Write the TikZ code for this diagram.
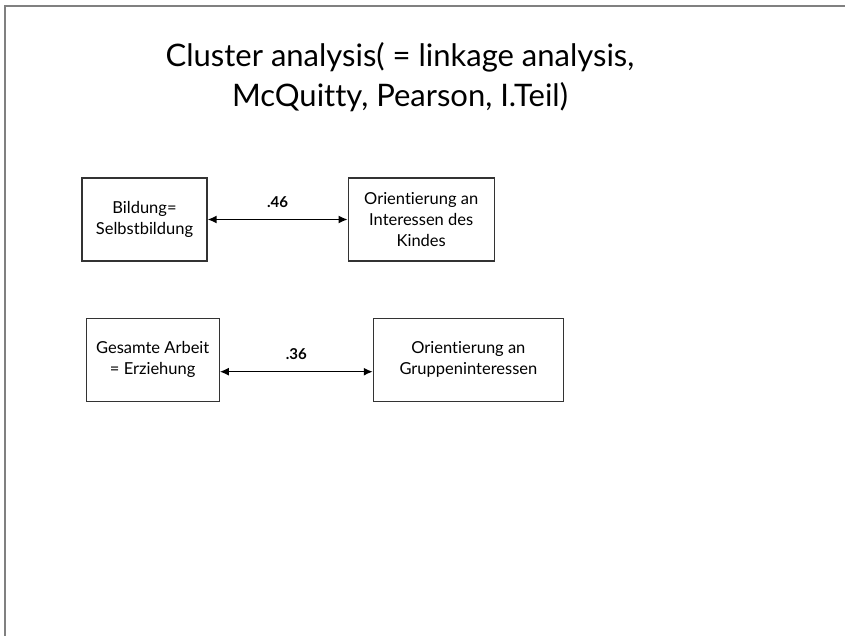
\documentclass[tikz,border=0pt]{standalone}
\usepackage{fontspec}
\setmainfont{Lato}[Ligatures=NoCommon]
\usetikzlibrary{positioning,arrows.meta}

\begin{document}
\begin{tikzpicture}[x=1pt,y=1pt,
    concept/.style={draw=black!80, line width=1.2pt, minimum height=83pt,
        align=center, font=\fontsize{16.5}{21}\selectfont, inner sep=2pt},
    link/.style={<->, >={Latex[length=9pt,width=8pt]}, line width=1.5pt},
    corr/.style={above=8pt, font=\fontsize{15}{17}\bfseries}]
    \useasboundingbox (0,0) rectangle (845,-636);
    % slide frame
    \draw[gray, line width=1.6pt] (5,-636) -- (5,-6) -- (845,-6);
    \node[align=center, font=\fontsize{31}{40}\selectfont] (title) at (400,-77)
        {Cluster analysis( = linkage analysis,\\McQuitty, Pearson, I.Teil)};
    \node[concept, minimum width=125pt] (bildung) at (144.5,-219.5) {Bildung=\\Selbstbildung};
    \node[concept, minimum width=146pt] (kind) [right=140pt of bildung] {Orientierung an\\Interessen des\\Kindes};
    \node[concept, minimum width=133pt] (arbeit) [below right=56pt and -122pt of bildung] {Gesamte Arbeit\\= Erziehung};
    \node[concept, minimum width=190pt] (gruppe) [right=153pt of arbeit] {Orientierung an\\Gruppeninteressen};
    \draw[link] (bildung) -- node[corr] {.46} (kind);
    \draw[link] ([yshift=-12pt]arbeit.east) -- node[corr] {.36} ([yshift=-12pt]gruppe.west);
\end{tikzpicture}
\end{document}
